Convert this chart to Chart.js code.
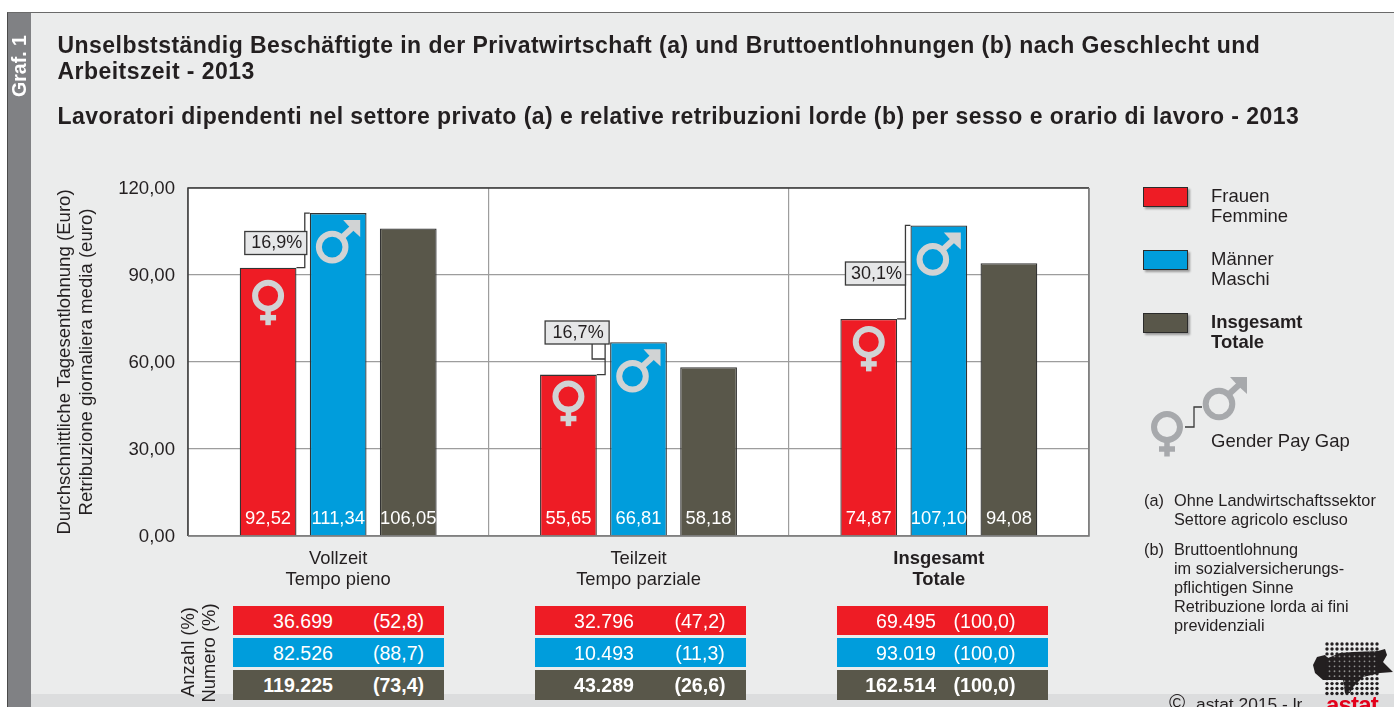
<!DOCTYPE html>
<html>
<head>
<meta charset="utf-8">
<title>Graf. 1</title>
<script src="https://cdn.jsdelivr.net/npm/chart.js@4"></script>
<style>
  html, body { margin:0; padding:0; background:#fff; }
  body { position:relative; width:1394px; height:707px; overflow:hidden; font-family:"Liberation Sans", Arial, sans-serif; color:#231f20; }
  #panel { position:absolute; left:7px; top:12px; width:1387px; height:695px; background:#ebecec; border-left:1.5px solid #4a4a4a; border-top:1.5px solid #6a6a6a; box-sizing:border-box; }
  #stripe { position:absolute; left:8px; top:13px; width:23px; height:694px; background:#808184; }
  #footer { position:absolute; left:31px; top:694px; width:1363px; height:13px; background:#dcddde; }
  #c { position:absolute; left:0; top:0; }
  .t { position:absolute; white-space:nowrap; line-height:1; }
  .rot { transform:translate(-50%,-50%) rotate(-90deg); }
  .cell { position:absolute; color:#fff; font-size:19.6px; }
  .cell span { position:absolute; top:50%; white-space:nowrap; }
  .sw { position:absolute; width:45px; height:20px; border:1.5px solid #2b2b2b; box-sizing:border-box; box-shadow:2px 2px 2px #9a9a9a; }
</style>
</head>
<body>
<div id="panel"></div>
<div id="stripe"></div>
<div id="footer"></div>
<canvas id="c" width="1394" height="707"></canvas>
<div id="overlay"></div>

<script>
// Unselbststaendig Beschaeftigte - Bruttoentlohnungen 2013

const CATEGORIES = [['Vollzeit','Tempo pieno'], ['Teilzeit','Tempo parziale'], ['Insgesamt','Totale']];
const FRAUEN = [92.52, 55.65, 74.87];
const MAENNER = [111.34, 66.81, 107.10];
const INSGESAMT = [106.05, 58.18, 94.08];
const GAP_LABELS = ['16,9%', '16,7%', '30,1%'];
const Y_TICKS_STEP = 30;
const Y_MAX = 120;

const COUNT_FRAUEN = [['36.699','(52,8)'], ['32.796','(47,2)'], ['69.495','(100,0)']];
const COUNT_MAENNER = [['82.526','(88,7)'], ['10.493','(11,3)'], ['93.019','(100,0)']];
const COUNT_TOTAL = [['119.225','(73,4)'], ['43.289','(26,6)'], ['162.514','(100,0)']];

const RED = '#ee1c25', BLUE = '#009ddc', DARK = '#59574a';
const INK = '#231f20', SYMBOL = '#d1d3d4', SYMBOL_LEGEND = '#a7a9ac', FRAME = '#3a3a3a';
const FONT = '"Liberation Sans", Arial, sans-serif';

function euro(v) { return v.toFixed(2).replace('.', ','); }

function venus(ctx, x, y, color) {
  ctx.save();
  ctx.strokeStyle = color;
  ctx.lineWidth = 6;
  ctx.lineCap = 'butt';
  ctx.beginPath(); ctx.arc(x, y, 13, 0, Math.PI*2); ctx.stroke();
  ctx.lineWidth = 5.5;
  ctx.beginPath(); ctx.moveTo(x, y+15); ctx.lineTo(x, y+29.5); ctx.stroke();
  ctx.beginPath(); ctx.moveTo(x-8, y+22); ctx.lineTo(x+8, y+22); ctx.stroke();
  ctx.restore();
}

function mars(ctx, x, y, color) {
  ctx.save();
  ctx.strokeStyle = color;
  ctx.fillStyle = color;
  ctx.lineWidth = 6;
  ctx.beginPath(); ctx.arc(x, y, 13.3, 0, Math.PI*2); ctx.stroke();
  ctx.beginPath(); ctx.moveTo(x+9, y-9); ctx.lineTo(x+22, y-21); ctx.stroke();
  ctx.beginPath(); ctx.moveTo(x+28, y-27); ctx.lineTo(x+11, y-27); ctx.lineTo(x+16, y-21.5); ctx.lineTo(x+22, y-15.5); ctx.lineTo(x+28, y-10); ctx.closePath(); ctx.fill();
  ctx.restore();
}

// white plot ground and frame
const plotFrame = {
  id: 'plotFrame',
  beforeDraw(chart) {
    const a = chart.chartArea, ctx = chart.ctx;
    ctx.fillStyle = '#fff';
    ctx.fillRect(a.left, a.top, a.width, a.height);
  },
  afterDraw(chart) {
    const a = chart.chartArea, ctx = chart.ctx;
    ctx.strokeStyle = FRAME;
    ctx.lineWidth = 1.5;
    ctx.beginPath();
    ctx.moveTo(a.left, a.bottom); ctx.lineTo(a.left, a.top); ctx.lineTo(a.right, a.top);
    ctx.stroke();
    ctx.strokeStyle = '#777';
    ctx.beginPath(); ctx.moveTo(a.right, a.top); ctx.lineTo(a.right, a.bottom); ctx.lineTo(a.left, a.bottom); ctx.stroke();
  }
};

// values at bar foot, gender signs and pay gap boxes
const barExtras = {
  id: 'barExtras',
  afterDatasetsDraw(chart) {
    const ctx = chart.ctx, a = chart.chartArea;
    ctx.font = '18.4px ' + FONT;
    ctx.textAlign = 'center';
    ctx.textBaseline = 'middle';
    chart.data.datasets.forEach((ds, d) => {
      chart.getDatasetMeta(d).data.forEach((bar, i) => {
        ctx.fillStyle = '#fff';
        ctx.fillText(euro(ds.data[i]), bar.x, a.bottom - 17.5);
      });
    });
    const venusDrop = [28, 22, 23];
    const boxes = [{ dx:-65, w:62, cy:243 }, { dx:-65, w:64, cy:332.5 }, { dx:-65, w:60, cy:273.5 }];
    CATEGORIES.forEach((c, i) => {
      const f = chart.getDatasetMeta(0).data[i], m = chart.getDatasetMeta(1).data[i];
      venus(ctx, f.x, f.y + venusDrop[i], SYMBOL);
      mars(ctx, m.x - 6, m.y + 34, SYMBOL);
      // connector
      ctx.strokeStyle = FRAME;
      ctx.lineWidth = 1.3;
      const fr = f.x + f.width/2, ml = m.x - m.width/2;
      ctx.beginPath();
      if (i === 1) {
        ctx.moveTo(fr, f.y); ctx.lineTo(ml-5, f.y); ctx.lineTo(ml-5, 344);
        ctx.moveTo(ml-18, 344); ctx.lineTo(ml-18, 359); ctx.lineTo(ml-5, 359);
      } else {
        ctx.moveTo(fr, f.y); ctx.lineTo(ml-5, f.y); ctx.lineTo(ml-5, m.y); ctx.lineTo(ml, m.y);
      }
      ctx.stroke();
      // box
      const bx = ml + boxes[i].dx, by = boxes[i].cy - 11.5, bw = boxes[i].w;
      ctx.fillStyle = '#e6e7e8';
      ctx.fillRect(bx, by, bw, 23);
      ctx.strokeStyle = '#3a3a3a';
      ctx.lineWidth = 1.3;
      ctx.strokeRect(bx, by, bw, 23);
      ctx.fillStyle = INK;
      ctx.font = '18px ' + FONT;
      ctx.fillText(GAP_LABELS[i], bx + bw/2 + 1, boxes[i].cy + 0.5);
    });
    // legend sign
    venus(ctx, 1167, 427, SYMBOL_LEGEND);
    mars(ctx, 1219, 404, SYMBOL_LEGEND);
    ctx.strokeStyle = FRAME;
    ctx.lineWidth = 1.3;
    ctx.beginPath();
    ctx.moveTo(1185, 427); ctx.lineTo(1194, 427); ctx.lineTo(1194, 407); ctx.lineTo(1202, 407);
    ctx.stroke();
    drawLogo(ctx);
  }
};

function drawLogo(ctx) {
  const blob = new Path2D();
  [[1313,665],[1317,657],[1325,655],[1328,658],[1340,653],[1353,652],[1378,651],[1385,649],[1387,655],[1383,662],[1393,672],[1380,673],[1363,677],[1353,687],[1350,693],[1345,693],[1343,680],[1323,680],[1315,673]]
    .forEach((p, i) => i ? blob.lineTo(p[0], p[1]) : blob.moveTo(p[0], p[1]));
  blob.closePath();
  ctx.fillStyle = '#231f20';
  ctx.fill(blob);
  for (let row = 0; row < 11; row++) {
    for (let col = 0; col < 11; col++) {
      const x = 1327 + col*5, y = 644 + row*4.95;
      ctx.fillStyle = '#231f20';
      ctx.beginPath();
      ctx.arc(x, y, 1.7, 0, Math.PI*2);
      ctx.fill();
      // light gaps between the dots inside the map
      if (col < 10 && row < 10 && ctx.isPointInPath(blob, x+2.5, y+2.5)) {
        ctx.fillStyle = '#8d8d8d';
        ctx.beginPath();
        ctx.arc(x+2.5, y+2.5, 0.9, 0, Math.PI*2);
        ctx.fill();
      }
    }
  }
}

new Chart(document.getElementById('c'), {
  type: 'bar',
  data: {
    labels: CATEGORIES,
    datasets: [
      { label:'Frauen', data:FRAUEN, backgroundColor:RED },
      { label:'Maenner', data:MAENNER, backgroundColor:BLUE },
      { label:'Insgesamt', data:INSGESAMT, backgroundColor:DARK }
    ].map(d => Object.assign(d, { borderColor:'#333', borderWidth:1.3, categoryPercentage:0.7, barPercentage:0.81 }))
  },
  options: {
    responsive: false,
    animation: false,
    devicePixelRatio: 1,
    layout: { padding: { left:54, top:188, right:305, bottom:111 } },
    plugins: { legend:{ display:false }, tooltip:{ enabled:false }, title:{ display:false } },
    scales: {
      x: {
        grid: { color:'#9d9d9d', lineWidth:1.2, drawTicks:false },
        border: { display:false },
        ticks: {
          color: INK, padding: 12, maxRotation: 0, autoSkip: false,
          font: ctx => ({ family:FONT, size:18.4, lineHeight:1.15, weight: ctx.index === 2 ? 'bold' : 'normal' })
        },
        afterFit: s => { s.height = 60; }
      },
      y: {
        min: 0, max: Y_MAX,
        grid: { color:'#9d9d9d', lineWidth:1.2, drawTicks:false },
        border: { display:false },
        ticks: { stepSize:Y_TICKS_STEP, color:INK, padding:13, labelOffset:1, font:{ family:FONT, size:18.6 }, callback: v => euro(v) },
        title: {
          display: true,
          text: ['Durchschnittliche Tagesentlohnung (Euro)', 'Retribuzione giornaliera media (euro)'],
          color: INK, padding: 0,
          font: { family:FONT, size:18.6, lineHeight:1.19 }
        },
        afterFit: s => { s.width = 134; }
      }
    }
  },
  plugins: [plotFrame, barExtras]
});

// page texts
const overlay = document.getElementById('overlay');

function text(str, x, y, size, extra) {
  const el = document.createElement('div');
  el.className = 't';
  el.textContent = str;
  el.style.left = x + 'px';
  el.style.top = (y - size/2) + 'px';
  el.style.fontSize = size + 'px';
  if (extra) Object.assign(el.style, extra);
  overlay.appendChild(el);
  return el;
}

function rotated(str, x, y, size, extra) {
  const el = text(str, x, y, size, extra);
  el.classList.add('rot');
  el.style.top = y + 'px';
}

const TITLE_LINES = [
  ['Unselbstständig Beschäftigte in der Privatwirtschaft (a) und Bruttoentlohnungen (b) nach Geschlecht und', 45],
  ['Arbeitszeit - 2013', 71],
  ['Lavoratori dipendenti nel settore privato (a) e relative retribuzioni lorde (b) per sesso e orario di lavoro - 2013', 116]
];
TITLE_LINES.forEach(l => text(l[0], 57.5, l[1], 23, { fontWeight:'bold', letterSpacing:'.45px' }));

rotated('Graf. 1', 20, 66, 19.5, { fontWeight:'bold', color:'#fff' });

const LEGEND = [
  [RED, 187, 'Frauen', 'Femmine', 'normal'],
  [BLUE, 250, 'Männer', 'Maschi', 'normal'],
  [DARK, 313, 'Insgesamt', 'Totale', 'bold']
];
LEGEND.forEach(l => {
  const sw = document.createElement('div');
  sw.className = 'sw';
  sw.style.left = '1143px'; sw.style.top = l[1] + 'px'; sw.style.background = l[0];
  overlay.appendChild(sw);
  text(l[2], 1211, l[1] + 9, 18.5, { fontWeight:l[4] });
  text(l[3], 1211, l[1] + 29.5, 18.5, { fontWeight:l[4] });
});
text('Gender Pay Gap', 1211, 441.5, 18.5);

const NOTES = [
  ['(a)', 1144, 500.5], ['Ohne Landwirtschaftssektor', 1174, 500.5], ['Settore agricolo escluso', 1174, 519.5],
  ['(b)', 1144, 549.5], ['Bruttoentlohnung', 1174, 549.5], ['im sozialversicherungs-', 1174, 568], ['pflichtigen Sinne', 1174, 587],
  ['Retribuzione lorda ai fini', 1174, 606.5], ['previdenziali', 1174, 625]
];
NOTES.forEach(n => text(n[0], n[1], n[2], 16.3));

// count table under the bars
const TABLE_X = [233, 535, 837];
const NUM_RIGHT = [100, 99, 99];
const PCT_CENTER = [165.5, 165, 147.5];
const ROWS = [
  [RED, 606, 29, COUNT_FRAUEN, 'normal'],
  [BLUE, 638, 29, COUNT_MAENNER, 'normal'],
  [DARK, 670, 30, COUNT_TOTAL, 'bold']
];
ROWS.forEach(r => {
  TABLE_X.forEach((x, i) => {
    const cell = document.createElement('div');
    cell.className = 'cell';
    Object.assign(cell.style, { left:x+'px', top:r[1]+'px', width:'211px', height:r[2]+'px', background:r[0], fontWeight:r[4] });
    const num = document.createElement('span');
    num.textContent = r[3][i][0];
    num.style.left = NUM_RIGHT[i] + 'px';
    num.style.transform = 'translate(-100%,-50%)';
    const pct = document.createElement('span');
    pct.textContent = r[3][i][1];
    pct.style.left = PCT_CENTER[i] + 'px';
    pct.style.transform = 'translate(-50%,-50%)';
    cell.appendChild(num);
    cell.appendChild(pct);
    overlay.appendChild(cell);
  });
});
rotated('Anzahl (%)', 188, 652, 18.4);
rotated('Numero (%)', 208.5, 652.5, 18.4);

text('©', 1169, 703, 22);
text('astat 2015 - lr', 1196, 704.5, 17.4);
text('astat', 1326, 705, 24, { fontWeight:'bold', color:'#e2001a', letterSpacing:'-.8px' });
</script>
</body>
</html>
